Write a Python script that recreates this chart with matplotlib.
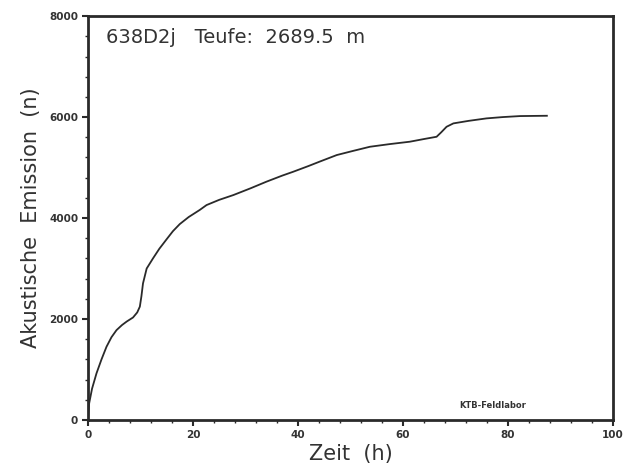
import matplotlib
matplotlib.use("Agg")
import matplotlib.pyplot as plt
from matplotlib.ticker import MultipleLocator

zeit = [0, 0.25, 0.8, 1.65, 2.6, 3.55, 4.5, 5.46, 6.5, 7.4, 8.6, 9.4, 9.9, 10.2, 10.5, 11.2,
        12.4, 13.6, 15, 16.2, 17.5, 19.2, 21.3, 22.6, 25, 27.7, 31, 34, 37, 39.1, 42, 44.2,
        47.4, 50.5, 53.7, 57.5, 61.3, 64, 66.4, 67.3, 68.3, 69.6, 72.5, 75.9, 79, 82.3, 87.4]
emission = [0, 330, 620, 925, 1200, 1450, 1640, 1780, 1880, 1950, 2030, 2130, 2245, 2450, 2705, 3000,
            3200, 3390, 3580, 3740, 3880, 4020, 4160, 4257, 4360, 4455, 4590, 4720, 4840, 4917, 5030, 5120,
            5248, 5330, 5412, 5465, 5512, 5565, 5610, 5700, 5808, 5875, 5925, 5974, 6000, 6020, 6026]

title_text = "638D2j   Teufe:  2689.5  m"
credit = "KTB-Feldlabor"
xlabel = "Zeit  (h)"
ylabel = "Akustische  Emission  (n)"

ink = "#2a2a2a"
fig = plt.figure(figsize=(6.32, 4.74), dpi=100)
ax = fig.add_axes([0.139, 0.114, 0.831, 0.852])
ax.plot(zeit, emission, color=ink, lw=1.3)
ax.set_xlim(0, 100)
ax.set_ylim(0, 8000)
ax.xaxis.set_major_locator(MultipleLocator(20))
ax.xaxis.set_minor_locator(MultipleLocator(4))
ax.yaxis.set_major_locator(MultipleLocator(2000))
ax.yaxis.set_minor_locator(MultipleLocator(400))
for s in ax.spines.values():
    s.set_linewidth(2.0)
    s.set_color(ink)
ax.tick_params(which="major", direction="out", length=4, width=1.5, colors=ink,
               labelsize=7.5, pad=3)
ax.tick_params(which="minor", direction="out", length=2, width=1, colors=ink)
for lab in ax.get_xticklabels() + ax.get_yticklabels():
    lab.set_fontweight("bold")
    lab.set_color("#333333")
ax.set_xlabel(xlabel, fontsize=15, color="#333333", labelpad=3)
ax.set_ylabel(ylabel, fontsize=15, color="#333333", labelpad=6)
ax.text(0.035, 0.97, title_text, transform=ax.transAxes, fontsize=14, color="#333333",
        va="top", ha="left")
ax.text(0.77, 0.025, credit, transform=ax.transAxes, fontsize=6, color="#333333",
        va="bottom", ha="center", fontweight="bold")
fig.savefig("out.png", dpi=100)
